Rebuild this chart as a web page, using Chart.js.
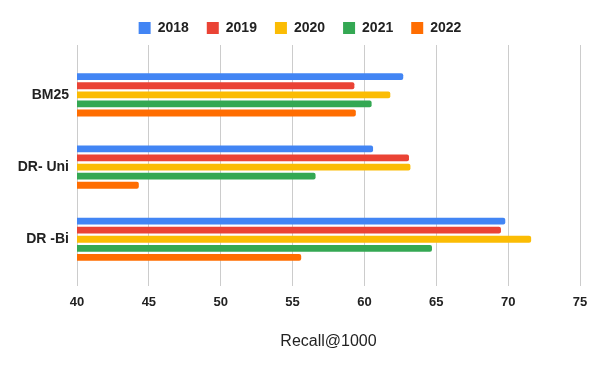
<!DOCTYPE html>
<html>
<head>
<meta charset="utf-8">
<script src="https://cdn.jsdelivr.net/npm/chart.js@4"></script>
<style>
  html, body { margin: 0; padding: 0; background: #fff; }
  #wrap { width: 600px; height: 371px; }
</style>
</head>
<body>
<div id="wrap"><canvas id="chart"></canvas></div>
<script>
const categories = ["BM25", "DR- Uni", "DR -Bi"];
const years = ["2018", "2019", "2020", "2021", "2022"];
const recall2018 = [62.7, 60.6, 69.8];
const recall2019 = [59.3, 63.1, 69.5];
const recall2020 = [61.8, 63.2, 71.6];
const recall2021 = [60.5, 56.6, 64.7];
const recall2022 = [59.4, 44.3, 55.6];
const xTicks = [40, 45, 50, 55, 60, 65, 70, 75];

const colors = ["#4285F4", "#EA4335", "#FBBC04", "#34A853", "#FF6D01"];
const series = [recall2018, recall2019, recall2020, recall2021, recall2022];

const font = "Arial, 'Liberation Sans', sans-serif";

// small gap under the legend, and centre it on the whole canvas
const legendTweak = {
  id: "legendTweak",
  beforeInit(chart) {
    if (chart.legend) {
      chart.legend.afterFit = function () { this.height += 5; };
    }
  },
  afterLayout(chart) {
    const lg = chart.legend;
    if (lg) {
      lg.left += 10;
      lg.right += 10;
    }
  },
};

new Chart(document.getElementById("chart"), {
  type: "bar",
  data: {
    datasets: series.map((vals, i) => ({
      label: years[i],
      data: vals.map((v, j) => ({ x: v, y: j })),
      backgroundColor: colors[i],
      borderRadius: 2,
      borderSkipped: "start",
      categoryPercentage: 0.63,
      barPercentage: 0.75,
    })),
  },
  plugins: [legendTweak],
  options: {
    indexAxis: "y",
    responsive: true,
    maintainAspectRatio: false,
    animation: false,
    layout: { padding: { top: 3, right: 20, bottom: 20, left: 0 } },
    plugins: {
      legend: {
        position: "top",
        labels: {
          boxWidth: 12,
          boxHeight: 12,
          padding: 18,
          color: "#222",
          font: { family: font, size: 14, weight: "bold" },
        },
      },
      tooltip: { enabled: false },
    },
    scales: {
      x: {
        type: "linear",
        min: xTicks[0],
        max: xTicks[xTicks.length - 1],
        afterBuildTicks: (s) => { s.ticks = xTicks.map((v) => ({ value: v })); },
        grid: { color: "#cccccc", drawTicks: false },
        border: { display: false },
        ticks: {
          padding: 8,
          color: "#222",
          font: { family: font, size: 13, weight: "bold" },
        },
        title: {
          display: true,
          text: "Recall@1000",
          color: "#222",
          padding: { top: 14, bottom: 0 },
          font: { family: font, size: 16 },
        },
      },
      y: {
        type: "linear",
        reverse: true,
        offset: false,
        bounds: "data",
        min: -0.69,
        max: categories.length - 1 + 0.65,
        afterBuildTicks: (s) => { s.ticks = categories.map((c, i) => ({ value: i })); },
        afterFit: (s) => { s.width = 77; },
        grid: { display: false, drawTicks: false, offset: false },
        border: { display: false },
        ticks: {
          padding: 8,
          color: "#222",
          font: { family: font, size: 14, weight: "bold" },
          callback: (v) => categories[v],
        },
      },
    },
  },
});
</script>
</body>
</html>
